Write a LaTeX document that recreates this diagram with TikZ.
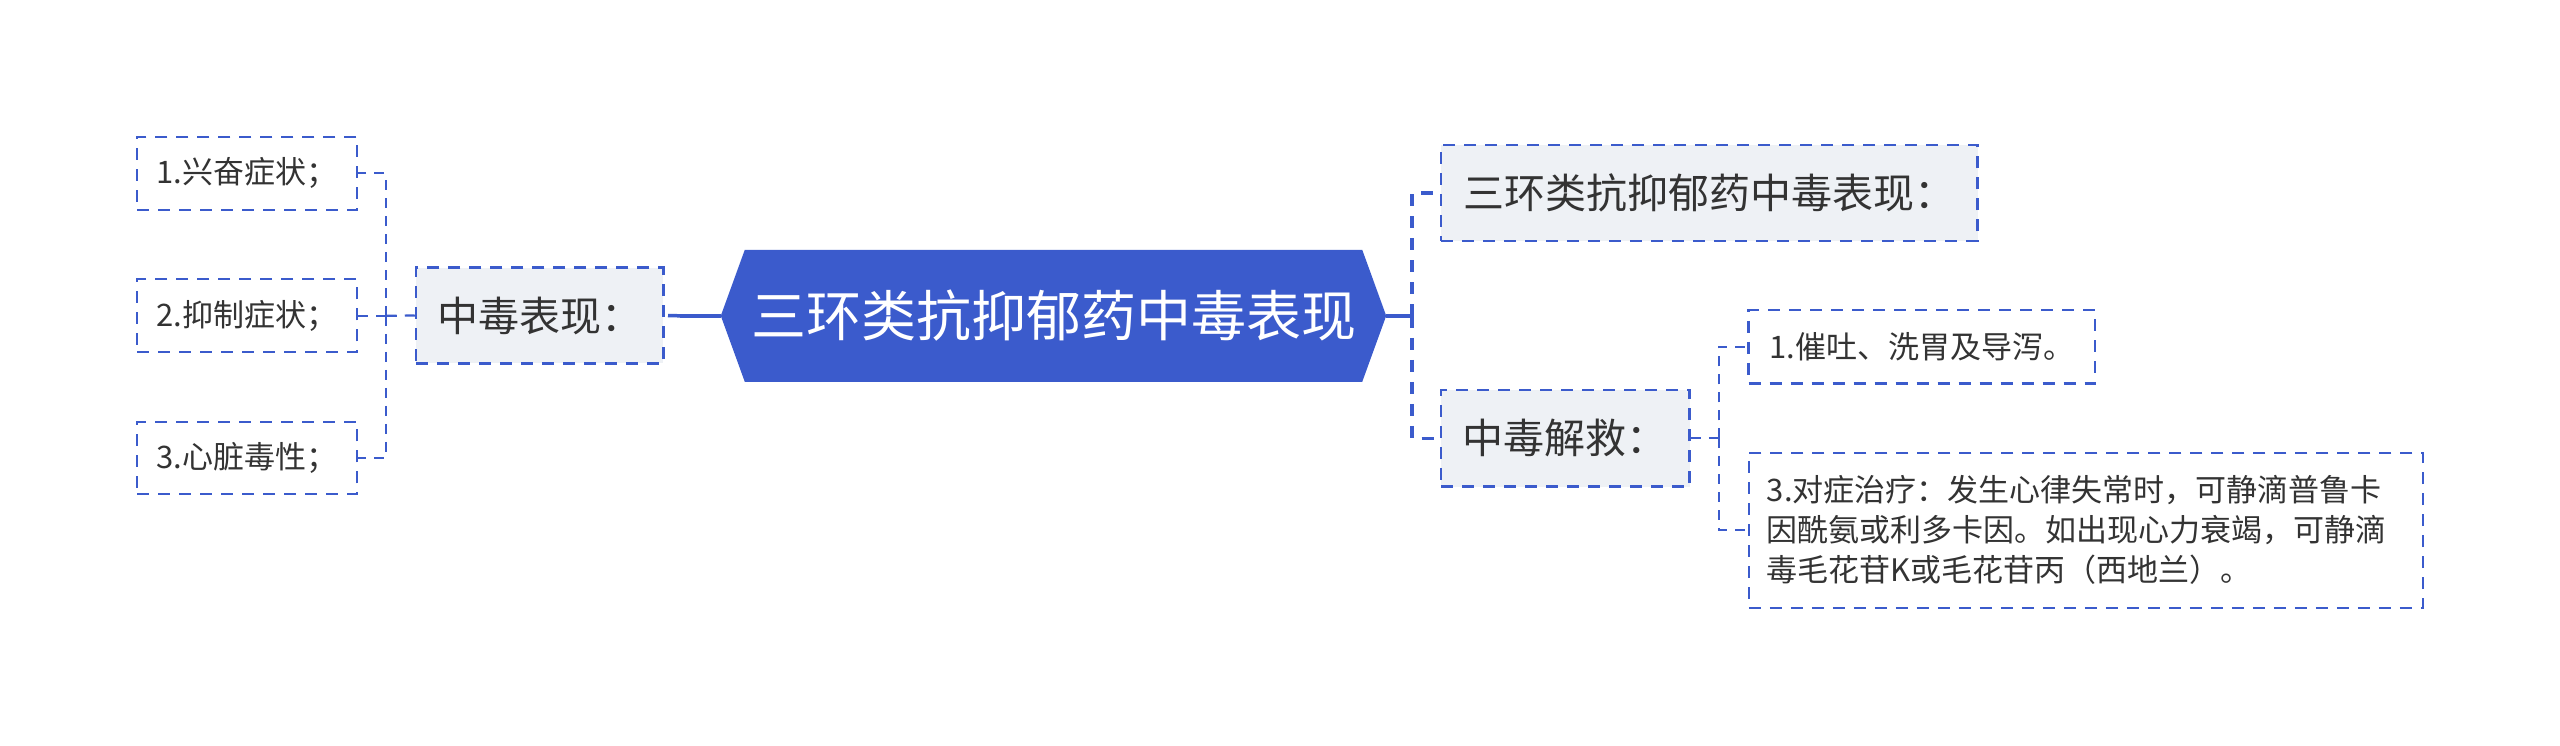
\documentclass[tikz,border=0pt]{standalone}
\usepackage{fontspec}
\newfontfamily\cjk{Noto Sans CJK SC}
\usetikzlibrary{calc,backgrounds}
\definecolor{mblue}{HTML}{3B5BCC}
\definecolor{lvlfill}{HTML}{EEF1F5}
\definecolor{txt}{HTML}{333333}
\tikzset{
  rootbox/.style={rectangle, inner sep=0pt, minimum width=617pt, minimum height=131.7pt,
    text=white, font=\cjk\fontsize{55}{64}\selectfont},
  lvlbox/.style={rectangle, draw=mblue, line width=2.5pt, dash pattern=on 12pt off 9pt,
    fill=lvlfill, inner sep=0pt, text=txt, font=\cjk\fontsize{41}{50}\selectfont},
  leafbox/.style={rectangle, draw=mblue, line width=2.3pt, dash pattern=on 12pt off 9pt,
    fill=white, inner sep=0pt, text=txt, font=\cjk\fontsize{31}{40}\selectfont},
  thickconn/.style={draw=mblue, line width=3.5pt},
  thickdash/.style={draw=mblue, line width=3.5pt, dash pattern=on 12pt off 10pt},
  leafconn/.style={draw=mblue, line width=2.2pt, dash pattern=on 10pt off 8pt},
}
\begin{document}
\begin{tikzpicture}[x=1pt,y=-1pt]
\useasboundingbox (0,0) rectangle (2560,745);

% root hexagon
\node[rootbox] (root) at (1053.5,315.8) {三环类抗抑郁药中毒表现};
\coordinate (hexL) at ($(root.west)+(-24pt,0)$);
\coordinate (hexR) at ($(root.east)+(24pt,0)$);
\begin{scope}[on background layer]
\fill[white] (0,0) rectangle (2560,745);
\fill[mblue] (root.north west) -- (root.north east) -- (hexR) -- (root.south east) -- (root.south west) -- (hexL) -- cycle;
\end{scope}

% left branch
\node[lvlbox, minimum width=247.4pt, minimum height=95.6pt] (a) at (539.7,315.5) {中毒表现：};
\node[leafbox, minimum width=220pt, minimum height=73.3pt] (l1) at (247,173.3) {1.兴奋症状；};
\node[leafbox, minimum width=220pt, minimum height=73pt] (l2) at (247,315.8) {2.抑制症状；};
\node[leafbox, minimum width=220pt, minimum height=72.6pt] (l3) at (247,458) {3.心脏毒性；};

% right branch
\node[lvlbox, minimum width=536.6pt, minimum height=95.7pt] (b) at (1709.3,192.9) {三环类抗抑郁药中毒表现：};
\node[lvlbox, minimum width=248.5pt, minimum height=96.7pt] (c) at (1565.3,438.3) {中毒解救：};
\node[leafbox, minimum width=346.4pt, minimum height=73.3pt] (r1) at (1921.8,346.7) {1.催吐、洗胃及导泻。};
\node[leafbox, minimum width=674.3pt, minimum height=155pt, inner xsep=18pt, align=left, text width=638pt]
  (r2) at (2085.9,530.2) {3.对症治疗：发生心律失常时，可静滴普鲁卡\\因酰氨或利多卡因。如出现心力衰竭，可静滴\\毒毛花苷K或毛花苷丙（西地兰）。};

% connectors
\coordinate (jl) at (680,315.8);
\coordinate (vl) at (385.7,315.8);
\coordinate (jr) at (1412,315.8);
\coordinate (vr) at (1719,438.3);

\draw[thickconn] (hexL) -- (jl);
\draw[thickdash] (jl) -- (a.east);
\draw[leafconn] (a.west) -- (vl);
\draw[leafconn] (vl) |- (l1.east);
\draw[leafconn] (vl) -- (l2.east);
\draw[leafconn] (vl) |- (l3.east);

\draw[thickconn] (hexR) -- (jr);
\draw[thickdash] (jr) |- (b.west);
\draw[thickdash] (jr) |- (c.west);
\draw[leafconn] (c.east) -- (vr);
\draw[leafconn] (vr) |- (r1.west);
\draw[leafconn] (vr) |- (r2.west);
\end{tikzpicture}
\end{document}
